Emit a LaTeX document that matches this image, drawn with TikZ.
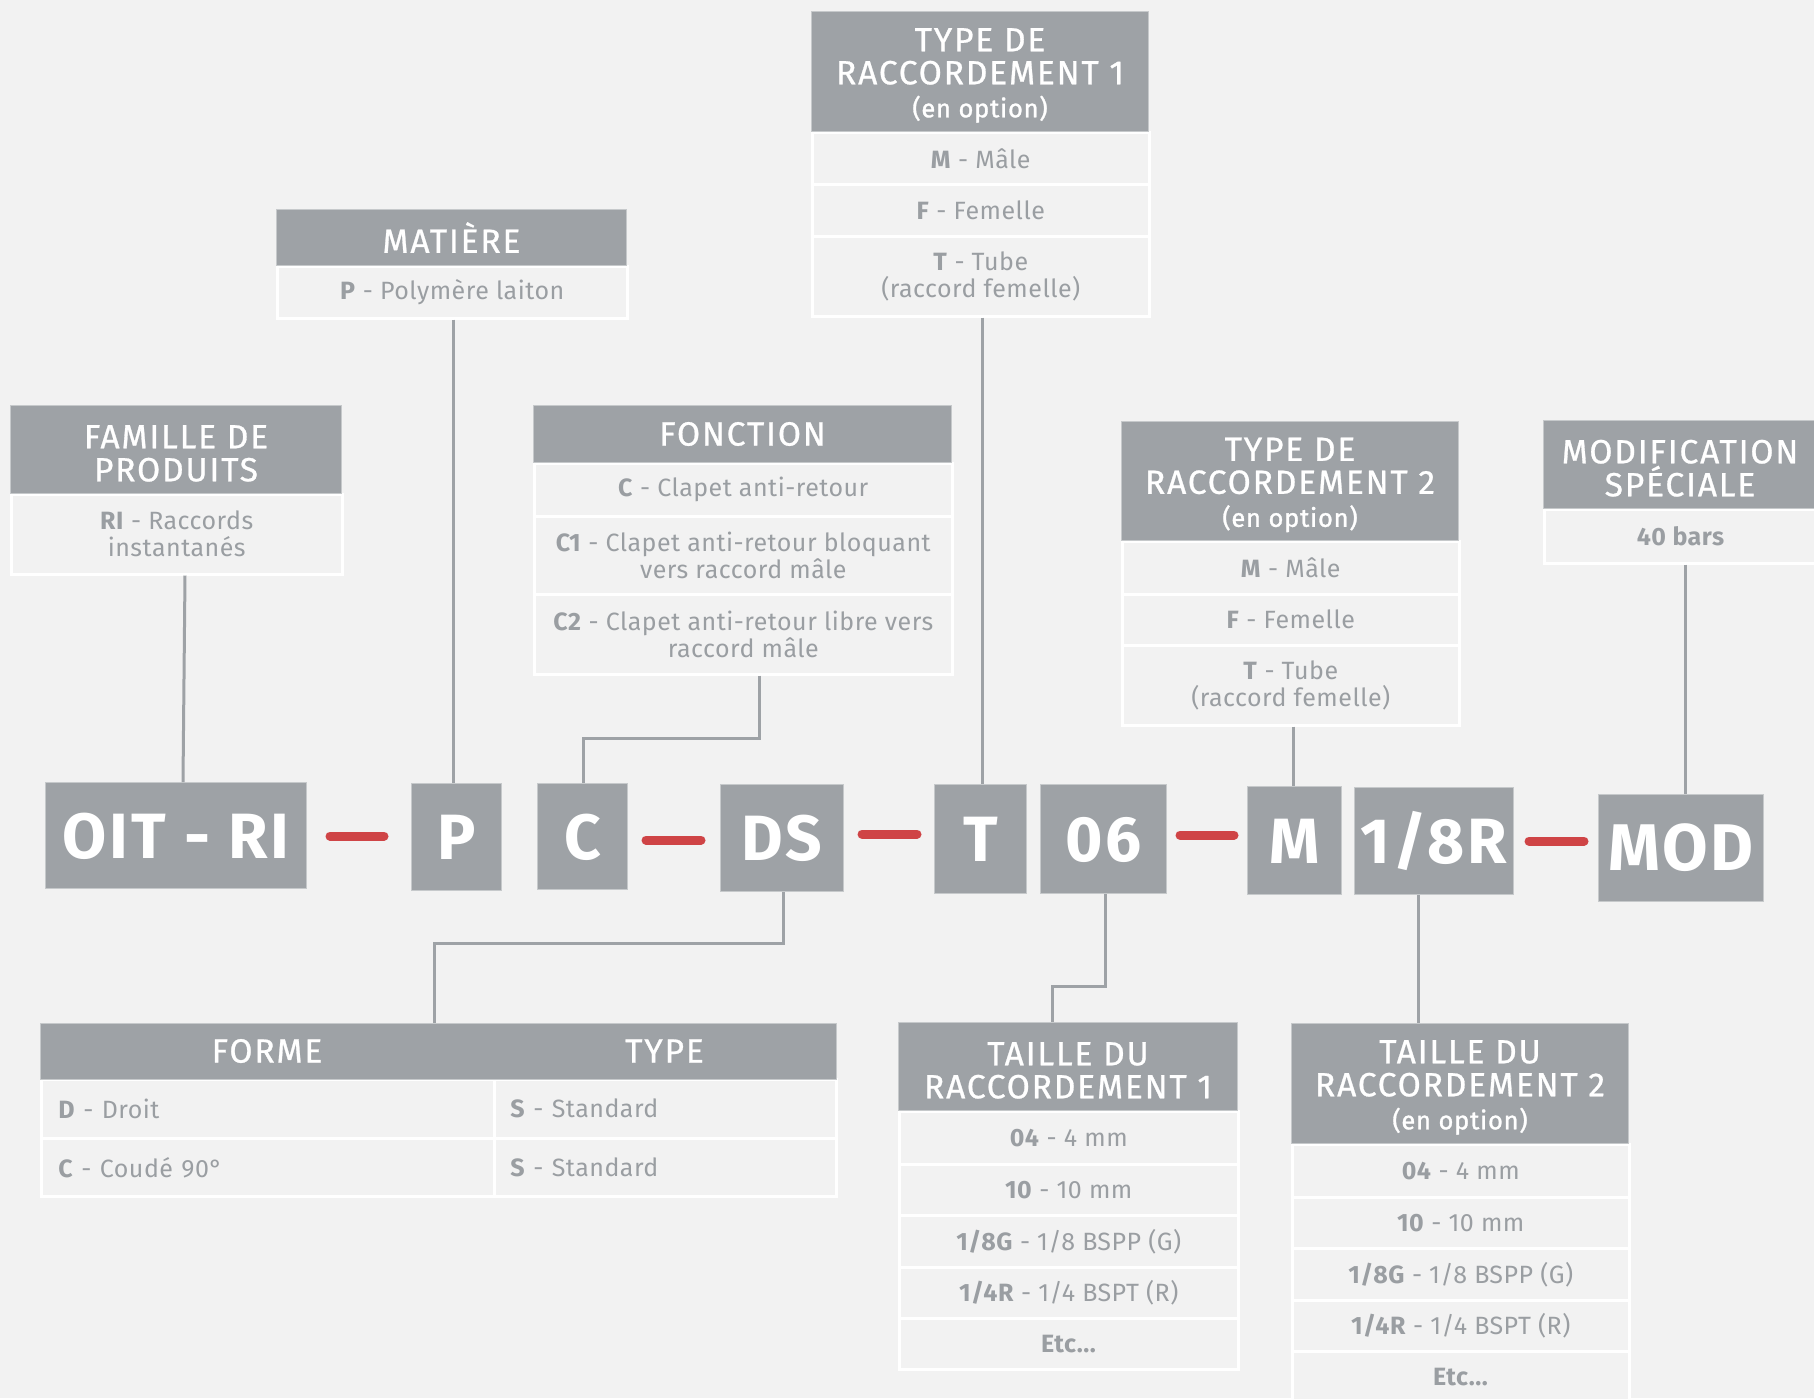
\documentclass[tikz,border=0pt]{standalone}
\usepackage{fontspec}
\setmainfont[LetterSpace=2]{Fira Sans}
\newfontfamily\hdrfont[FakeBold=0.8,LetterSpace=5.5]{Fira Sans}
\newfontfamily\optfont[FakeBold=1.2,LetterSpace=3]{Fira Sans}
\newfontfamily\codefont[LetterSpace=4.5]{Fira Sans}
\definecolor{bgc}{HTML}{F2F2F2}
\definecolor{hdrc}{HTML}{9EA2A6}
\definecolor{edgec}{HTML}{C6C9CB}
\definecolor{txtc}{HTML}{9A9EA2}
\definecolor{redc}{HTML}{CF4446}
\newcommand\hfs{\hdrfont\fontsize{33.5}{33}\selectfont}
\newcommand\bfs{\fontsize{25}{27}\selectfont}
\newcommand\cfs{\codefont\bfseries\fontsize{64}{64}\selectfont}
\newcommand\enopt{{\optfont\fontsize{25.5}{27}\selectfont (en option)}}
\newcommand\lowr{\rule{0pt}{31pt}}
\tikzset{
  hdr/.style={anchor=north west, fill=hdrc, draw=edgec, line width=1pt, inner sep=0pt, text=white, font=\hfs, align=center},
  cell/.style={anchor=north west, fill=bgc, draw=white, line width=2.5pt, inner sep=0pt, text=txtc, font=\bfs, align=center},
  lcell/.style={anchor=north west, fill=bgc, draw=white, line width=2.5pt, inner ysep=0pt, text=txtc, font=\bfs, align=left},
  code/.style={anchor=north west, fill=hdrc, draw=edgec, line width=1pt, inner sep=0pt, text=white, font=\cfs, text height=45pt, text depth=0pt},
  conn/.style={draw=hdrc, line width=3pt},
  reddash/.style={draw=redc, line width=9pt, line cap=round},
}
\begin{document}
\begin{tikzpicture}[x=1pt,y=-1pt]
\path[use as bounding box] (0,0) rectangle (1814,1398);
\clip (0,0) rectangle (1814,1398);
\fill[bgc] (0,0) rectangle (1814,1398);

% ---- FAMILLE DE PRODUITS
\node[cell, minimum width=331pt, minimum height=80pt] (famb) at (10,493) {\textbf{RI} - Raccords\\instantanés};
\node[hdr, minimum width=331pt, minimum height=88pt] (famh) at (10,405) {\lowr FAMILLE DE\\PRODUITS};

% ---- MATIERE
\node[cell, minimum width=350pt, minimum height=52pt] (matb) at (276,265) {\textbf{P} - Polymère laiton};
\node[hdr, minimum width=350pt, minimum height=56pt] (math) at (276,209) {MATIÈRE};

% ---- FONCTION
\node[cell, minimum width=418pt, minimum height=53pt] (fon1) at (533,462) {\textbf{C} - Clapet anti-retour};
\node[cell, minimum width=418pt, minimum height=78pt] (fon2) at (533,515) {\textbf{C1} - Clapet anti-retour bloquant\\vers raccord mâle};
\node[cell, minimum width=418pt, minimum height=80pt] (fon3) at (533,593) {\textbf{C2} - Clapet anti-retour libre vers\\raccord mâle};
\node[hdr, minimum width=418pt, minimum height=57pt] (fonh) at (533,405) {FONCTION};

% ---- TYPE DE RACCORDEMENT 1
\node[cell, minimum width=337pt, minimum height=52pt] (ta1) at (811,131) {\textbf{M} - Mâle};
\node[cell, minimum width=337pt, minimum height=52pt] (ta2) at (811,183) {\textbf{F} - Femelle};
\node[cell, minimum width=337pt, minimum height=80pt] (ta3) at (811,235) {\textbf{T} - Tube\\(raccord femelle)};
\node[hdr, minimum width=337pt, minimum height=120pt] (tah) at (811,11) {\lowr TYPE DE\\RACCORDEMENT 1\\\enopt};

% ---- TYPE DE RACCORDEMENT 2
\node[cell, minimum width=337pt, minimum height=53pt] (tb1) at (1121,540) {\textbf{M} - Mâle};
\node[cell, minimum width=337pt, minimum height=51pt] (tb2) at (1121,593) {\textbf{F} - Femelle};
\node[cell, minimum width=337pt, minimum height=80pt] (tb3) at (1121,644) {\textbf{T} - Tube\\(raccord femelle)};
\node[hdr, minimum width=337pt, minimum height=119pt] (tbh) at (1121,421) {\lowr TYPE DE\\RACCORDEMENT 2\\\enopt};

% ---- MODIFICATION SPECIALE
\node[cell, minimum width=273pt, minimum height=54pt] (modb) at (1543,508) {\textbf{40 bars}};
\node[hdr, minimum width=273pt, minimum height=88pt] (modh) at (1543,420) {\lowr MODIFICATION\\SPÉCIALE};

% ---- FORME / TYPE
\node[lcell, inner xsep=17pt, text width=419pt, minimum height=59pt] (fd1) at (40,1078) {\textbf{D} - Droit};
\node[lcell, inner xsep=16pt, text width=310pt, minimum height=59pt] (fs1) at (493,1078) {\textbf{S} - Standard};
\node[lcell, inner xsep=17pt, text width=419pt, minimum height=58pt] (fd2) at (40,1137) {\textbf{C} - Coudé 90°};
\node[lcell, inner xsep=16pt, text width=310pt, minimum height=58pt] (fs2) at (493,1137) {\textbf{S} - Standard};
\node[hdr, draw=hdrc, minimum width=453pt, minimum height=55pt] (formeh) at (40,1023) {FORME};
\node[hdr, draw=hdrc, minimum width=342pt, minimum height=55pt] (typeh) at (493,1023) {TYPE};
\draw[edgec, line width=1pt] (formeh.north west) rectangle (typeh.south east);

% ---- TAILLE DU RACCORDEMENT 1
\node[cell, minimum width=339pt, minimum height=53pt] (sa1) at (898,1110) {\textbf{04} - 4 mm};
\node[cell, minimum width=339pt, minimum height=51pt] (sa2) at (898,1163) {\textbf{10} - 10 mm};
\node[cell, minimum width=339pt, minimum height=52pt] (sa3) at (898,1214) {\textbf{1/8G} - 1/8 BSPP (G)};
\node[cell, minimum width=339pt, minimum height=51pt] (sa4) at (898,1266) {\textbf{1/4R} - 1/4 BSPT (R)};
\node[cell, minimum width=339pt, minimum height=51pt] (sa5) at (898,1317) {\textbf{Etc...}};
\node[hdr, minimum width=339pt, minimum height=88pt] (sah) at (898,1022) {\lowr TAILLE DU\\RACCORDEMENT 1};

% ---- TAILLE DU RACCORDEMENT 2
\node[cell, minimum width=337pt, minimum height=53pt] (sb1) at (1291,1143) {\textbf{04} - 4 mm};
\node[cell, minimum width=337pt, minimum height=51pt] (sb2) at (1291,1196) {\textbf{10} - 10 mm};
\node[cell, minimum width=337pt, minimum height=52pt] (sb3) at (1291,1247) {\textbf{1/8G} - 1/8 BSPP (G)};
\node[cell, minimum width=337pt, minimum height=51pt] (sb4) at (1291,1299) {\textbf{1/4R} - 1/4 BSPT (R)};
\node[cell, minimum width=337pt, minimum height=51pt] (sb5) at (1291,1350) {\textbf{Etc...}};
\node[hdr, minimum width=337pt, minimum height=120pt] (sbh) at (1291,1023) {\lowr TAILLE DU\\RACCORDEMENT 2\\\enopt};

% ---- code row
\node[code, minimum width=261pt, minimum height=106pt] (oit) at (45,782) {OIT - RI};
\node[code, minimum width=90pt, minimum height=107pt] (p) at (411,783) {P};
\node[code, minimum width=90pt, minimum height=106pt] (c) at (537,783) {C};
\node[code, minimum width=123pt, minimum height=107pt] (ds) at (720,784) {DS};
\node[code, minimum width=92pt, minimum height=109pt] (t) at (934,784) {T};
\node[code, minimum width=126pt, minimum height=109pt] (n06) at (1040,784) {06};
\node[code, minimum width=94pt, minimum height=108pt] (m) at (1247,786) {M};
\node[code, minimum width=159pt, minimum height=107pt] (r18) at (1354,787) {1/8R};
\node[code, minimum width=165pt, minimum height=107pt, font=\codefont\bfseries\fontsize{66}{66}\selectfont] (mod) at (1598,794) {MOD};

% ---- red dashes
\coordinate (d1a) at (330,836); \coordinate (d1b) at (384,836);
\coordinate (d2a) at (646,840); \coordinate (d2b) at (701,840);
\coordinate (d3a) at (862,834); \coordinate (d3b) at (917,834);
\coordinate (d4a) at (1180,835); \coordinate (d4b) at (1234,835);
\coordinate (d5a) at (1529,841); \coordinate (d5b) at (1584,841);
\draw[reddash] (d1a) -- (d1b);
\draw[reddash] (d2a) -- (d2b);
\draw[reddash] (d3a) -- (d3b);
\draw[reddash] (d4a) -- (d4b);
\draw[reddash] (d5a) -- (d5b);

% ---- connectors
\draw[conn] (famb.south -| 185,0) -- (oit.north -| 183,0);
\draw[conn] (matb.south -| 453,0) -- (p.north -| 453,0);
\draw[conn] (fon3.south -| 759,0) -- (759,738) -- (583,738) -- (c.north -| 583,0);
\draw[conn] (ta3.south -| 982,0) -- (t.north -| 982,0);
\draw[conn] (tb3.south -| 1293,0) -- (m.north -| 1293,0);
\draw[conn] (modb.south -| 1685,0) -- (mod.north -| 1685,0);
\draw[conn] (ds.south -| 783,0) -- (783,943) -- (434,943) -- (formeh.north -| 434,0);
\draw[conn] (n06.south -| 1105,0) -- (1105,986) -- (1052,986) -- (sah.north -| 1052,0);
\draw[conn] (r18.south -| 1418,0) -- (sbh.north -| 1418,0);
\end{tikzpicture}
\end{document}
